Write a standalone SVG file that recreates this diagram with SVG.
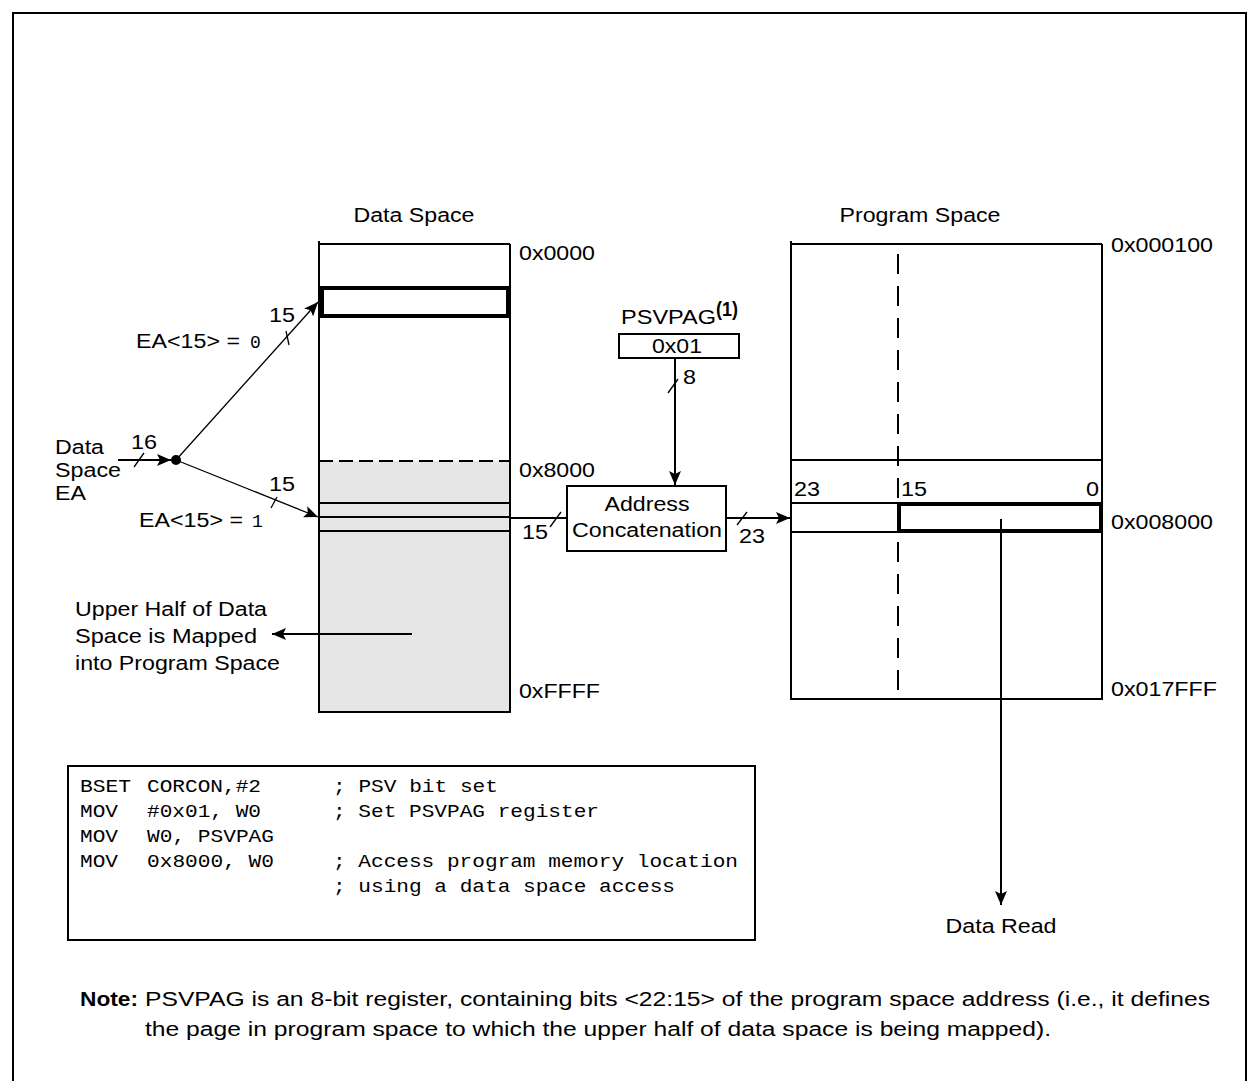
<svg xmlns="http://www.w3.org/2000/svg" width="1260" height="1081" viewBox="0 0 1260 1081">
<defs>
<style>
text{font-family:"Liberation Sans",Arial,sans-serif;font-size:20px;fill:#000}
.mono{font-family:"Liberation Mono","Courier New",monospace;font-size:18px}
.ln{stroke:#000;stroke-width:2;fill:none}
.thin{stroke:#000;stroke-width:1.3;fill:none}
.thick{stroke:#000;stroke-width:4;fill:none}
.mid{text-anchor:middle}
.end{text-anchor:end}
</style>
<marker id="ahb" viewBox="0 0 14 12" refX="14" refY="6" markerWidth="14" markerHeight="12" markerUnits="userSpaceOnUse" orient="auto">
<path d="M0,0 L14,6 L0,12 L3,6 Z" fill="#000"/>
</marker>
</defs>
<rect width="1260" height="1081" fill="#fff"/>
<path class="ln" d="M13,1081 V13 H1246 V1081"/>

<g id="data-space">
<text class="mid" x="414" y="222" textLength="121" lengthAdjust="spacingAndGlyphs">Data Space</text>
<rect x="319" y="461" width="191" height="251" fill="#e6e6e6"/>
<path class="ln" d="M319,244 H510 M319,241 V712 H510 V244"/>
<line class="ln" x1="319" y1="461" x2="510" y2="461" stroke-dasharray="14 6"/>
<rect class="thick" x="322" y="288" width="186" height="28"/>
<path class="ln" d="M319,503 H510 M319,517 H510 M319,531 H510"/>
<text x="519" y="260" textLength="76" lengthAdjust="spacingAndGlyphs">0x0000</text>
<text x="519" y="477" textLength="76" lengthAdjust="spacingAndGlyphs">0x8000</text>
<text x="519" y="698" textLength="81" lengthAdjust="spacingAndGlyphs">0xFFFF</text>
</g>

<g id="data-space-ea">
<text x="55" y="454" textLength="49" lengthAdjust="spacingAndGlyphs">Data</text>
<text x="55" y="477" textLength="66" lengthAdjust="spacingAndGlyphs">Space</text>
<text x="55" y="500" textLength="31" lengthAdjust="spacingAndGlyphs">EA</text>
<circle cx="176" cy="460" r="5" fill="#000"/>
</g>

<g id="psvpag">
<text x="621" y="324" textLength="95" lengthAdjust="spacingAndGlyphs">PSVPAG</text>
<text x="716" y="316" font-weight="bold" font-size="15" textLength="22" lengthAdjust="spacingAndGlyphs">(1)</text>
<rect class="ln" x="619" y="334" width="120" height="24"/>
<text class="mid" x="677" y="353" textLength="50" lengthAdjust="spacingAndGlyphs">0x01</text>
</g>

<g id="address-concatenation">
<rect class="ln" x="567" y="486" width="159" height="65"/>
<text class="mid" x="647" y="511" textLength="85" lengthAdjust="spacingAndGlyphs">Address</text>
<text class="mid" x="647" y="537" textLength="150" lengthAdjust="spacingAndGlyphs">Concatenation</text>
</g>

<g id="program-space">
<text class="mid" x="920" y="222" textLength="161" lengthAdjust="spacingAndGlyphs">Program Space</text>
<path class="ln" d="M791,244 H1102 M791,241 V699 H1102 V244"/>
<line class="ln" x1="898" y1="244" x2="898" y2="699" stroke-dasharray="20 12" stroke-dashoffset="-10"/>
<path class="ln" d="M791,460 H1102 M791,503 H898 M791,532 H898"/>
<rect class="thick" x="899" y="504" width="202" height="27" fill="#fff"/>
<text x="794" y="496" textLength="26" lengthAdjust="spacingAndGlyphs">23</text>
<text x="901" y="496" textLength="26" lengthAdjust="spacingAndGlyphs">15</text>
<text class="end" x="1099" y="496" textLength="13" lengthAdjust="spacingAndGlyphs">0</text>
<text x="1111" y="252" textLength="102" lengthAdjust="spacingAndGlyphs">0x000100</text>
<text x="1111" y="529" textLength="102" lengthAdjust="spacingAndGlyphs">0x008000</text>
<text x="1111" y="696" textLength="106" lengthAdjust="spacingAndGlyphs">0x017FFF</text>
</g>

<g id="upper-half-note">
<text x="75" y="616" textLength="192" lengthAdjust="spacingAndGlyphs">Upper Half of Data</text>
<text x="75" y="643" textLength="182" lengthAdjust="spacingAndGlyphs">Space is Mapped</text>
<text x="75" y="670" textLength="205" lengthAdjust="spacingAndGlyphs">into Program Space</text>
</g>

<g id="code">
<rect class="ln" x="68" y="766" width="687" height="174"/>
<text class="mono" x="80" y="792" textLength="51" lengthAdjust="spacingAndGlyphs">BSET</text>
<text class="mono" x="147" y="792" textLength="114" lengthAdjust="spacingAndGlyphs">CORCON,#2</text>
<text class="mono" x="333" y="792" textLength="165" lengthAdjust="spacingAndGlyphs">; PSV bit set</text>
<text class="mono" x="80" y="817" textLength="38" lengthAdjust="spacingAndGlyphs">MOV</text>
<text class="mono" x="147" y="817" textLength="114" lengthAdjust="spacingAndGlyphs">#0x01, W0</text>
<text class="mono" x="333" y="817" textLength="266" lengthAdjust="spacingAndGlyphs">; Set PSVPAG register</text>
<text class="mono" x="80" y="842" textLength="38" lengthAdjust="spacingAndGlyphs">MOV</text>
<text class="mono" x="147" y="842" textLength="127" lengthAdjust="spacingAndGlyphs">W0, PSVPAG</text>
<text class="mono" x="80" y="867" textLength="38" lengthAdjust="spacingAndGlyphs">MOV</text>
<text class="mono" x="147" y="867" textLength="127" lengthAdjust="spacingAndGlyphs">0x8000, W0</text>
<text class="mono" x="333" y="867" textLength="405" lengthAdjust="spacingAndGlyphs">; Access program memory location</text>
<text class="mono" x="333" y="892" textLength="342" lengthAdjust="spacingAndGlyphs">; using a data space access</text>
</g>

<g id="data-read">
<text class="mid" x="1001" y="933" textLength="111" lengthAdjust="spacingAndGlyphs">Data Read</text>
</g>

<g id="note">
<text x="80" y="1006" font-weight="bold" font-size="21" textLength="58" lengthAdjust="spacingAndGlyphs">Note:</text>
<text x="145" y="1006" font-size="21" textLength="1065" lengthAdjust="spacingAndGlyphs">PSVPAG is an 8-bit register, containing bits &lt;22:15&gt; of the program space address (i.e., it defines</text>
<text x="145" y="1036" font-size="21" textLength="906" lengthAdjust="spacingAndGlyphs">the page in program space to which the upper half of data space is being mapped).</text>
</g>

<g id="connectors">
<line class="ln" x1="118" y1="460" x2="171" y2="460" marker-end="url(#ahb)"/>
<line class="thin" x1="134" y1="467" x2="144" y2="453"/>
<text x="131" y="449" textLength="26" lengthAdjust="spacingAndGlyphs">16</text>
<line class="thin" x1="176" y1="460" x2="318" y2="302" marker-end="url(#ahb)"/>
<line class="thin" x1="286" y1="331" x2="289" y2="345"/>
<text x="269" y="322" textLength="26" lengthAdjust="spacingAndGlyphs">15</text>
<text x="136" y="348" textLength="104" lengthAdjust="spacingAndGlyphs">EA&lt;15&gt; =</text>
<text x="250" y="348" class="mono" font-size="18">0</text>
<line class="thin" x1="176" y1="460" x2="318" y2="517" marker-end="url(#ahb)"/>
<line class="thin" x1="271" y1="508" x2="277" y2="497"/>
<text x="269" y="491" textLength="26" lengthAdjust="spacingAndGlyphs">15</text>
<text x="139" y="527" textLength="104" lengthAdjust="spacingAndGlyphs">EA&lt;15&gt; =</text>
<text x="252" y="527" class="mono" font-size="18">1</text>
<line class="ln" x1="510" y1="518" x2="567" y2="518"/>
<line class="thin" x1="550" y1="527" x2="561" y2="512"/>
<text x="522" y="539" textLength="26" lengthAdjust="spacingAndGlyphs">15</text>
<line class="ln" x1="675" y1="358" x2="675" y2="485" marker-end="url(#ahb)"/>
<line class="thin" x1="668" y1="393" x2="678" y2="379"/>
<text x="683" y="384" textLength="13" lengthAdjust="spacingAndGlyphs">8</text>
<line class="ln" x1="726" y1="518" x2="790" y2="518" marker-end="url(#ahb)"/>
<line class="thin" x1="737" y1="525" x2="747" y2="512"/>
<text x="739" y="543" textLength="26" lengthAdjust="spacingAndGlyphs">23</text>
<line class="ln" x1="412" y1="634" x2="272" y2="634" marker-end="url(#ahb)"/>
<line class="ln" x1="1001" y1="519" x2="1001" y2="905" marker-end="url(#ahb)"/>
</g>
</svg>
